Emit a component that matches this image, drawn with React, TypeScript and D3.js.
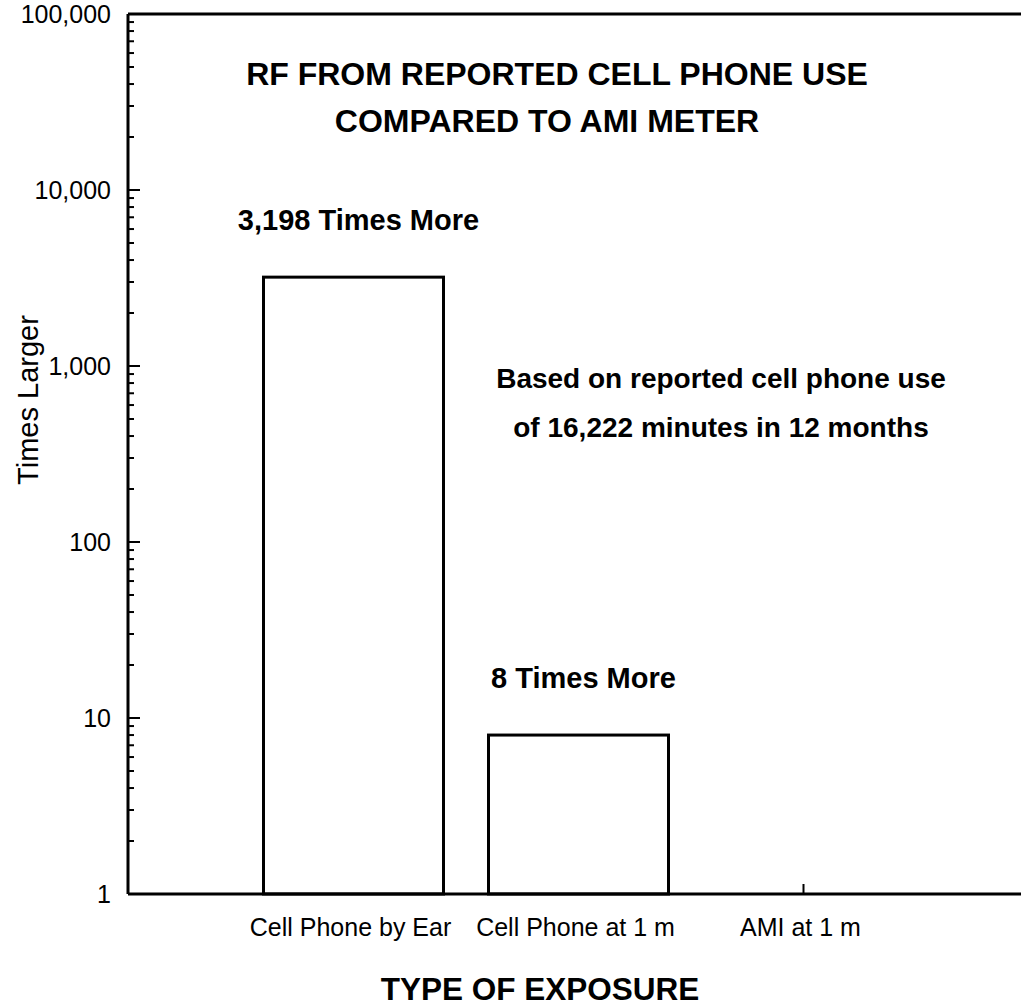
import React, { useEffect, useRef } from "react";
import * as d3 from "d3";

const categories = ["Cell Phone by Ear", "Cell Phone at 1 m", "AMI at 1 m"];
const values = [3198, 8, 1];
const barNotes = ["3,198 Times More", "8 Times More", ""];
const yTicks = [1, 10, 100, 1000, 10000, 100000];
const yTickLabels = ["1", "10", "100", "1,000", "10,000", "100,000"];
const titleLines = ["RF FROM REPORTED CELL PHONE USE", "COMPARED TO AMI METER"];
const noteLines = ["Based on reported cell phone use", "of 16,222 minutes in 12 months"];

const W = 1021;
const H = 1007;
const font = "'Liberation Sans', Arial, Helvetica, sans-serif";

const App = () => {
  const ref = useRef<SVGSVGElement | null>(null);

  useEffect(() => {
    const svg = d3.select(ref.current);
    svg.selectAll("*").remove();

    const left = 128;
    const top = 14;
    const bottom = 894;

    const y = d3.scaleLog().domain([1, 100000]).range([bottom, top]);
    const x = d3
      .scaleBand()
      .domain(categories)
      .range([241, 916])
      .paddingInner(0.2)
      .paddingOuter(0.1);

    // top line and baseline
    [top, bottom].forEach((yy) => {
      svg
        .append("line")
        .attr("x1", left)
        .attr("x2", W)
        .attr("y1", yy)
        .attr("y2", yy)
        .attr("stroke", "#000")
        .attr("stroke-width", 3);
    });

    // y axis, ticks point inward
    const minor: number[] = [];
    for (let p = 0; p < 5; p++) {
      for (let k = 2; k <= 9; k++) minor.push(k * Math.pow(10, p));
    }
    const g = svg.append("g");
    g.append("line")
      .attr("x1", left)
      .attr("x2", left)
      .attr("y1", top)
      .attr("y2", bottom)
      .attr("stroke", "#000")
      .attr("stroke-width", 3);
    g.selectAll(".minor")
      .data(minor)
      .enter()
      .append("line")
      .attr("x1", left)
      .attr("x2", left + 6)
      .attr("y1", (d) => y(d))
      .attr("y2", (d) => y(d))
      .attr("stroke", "#000")
      .attr("stroke-width", 2);
    g.selectAll(".major")
      .data(yTicks)
      .enter()
      .append("line")
      .attr("x1", left)
      .attr("x2", left + 12)
      .attr("y1", (d) => y(d))
      .attr("y2", (d) => y(d))
      .attr("stroke", "#000")
      .attr("stroke-width", 2);
    g.selectAll(".lab")
      .data(yTicks)
      .enter()
      .append("text")
      .attr("x", 111)
      .attr("y", (d) => y(d) + 9)
      .attr("text-anchor", "end")
      .style("font-family", font)
      .style("font-size", "25px")
      .text((d, i) => yTickLabels[i]);

    svg
      .append("text")
      .attr("transform", `translate(38, 400) rotate(-90)`)
      .attr("text-anchor", "middle")
      .style("font-family", font)
      .style("font-size", "29px")
      .text("Times Larger");

    // bars
    svg
      .selectAll(".bar")
      .data(values)
      .enter()
      .append("rect")
      .attr("x", (d, i) => x(categories[i]) as number)
      .attr("y", (d) => y(d))
      .attr("width", x.bandwidth())
      .attr("height", (d) => bottom - y(d))
      .attr("fill", "none")
      .attr("stroke", "#000")
      .attr("stroke-width", 3);

    // tick where the bar has no height
    svg
      .selectAll(".ctick")
      .data(values.map((v, i) => ({ v, i })).filter((d) => d.v <= 1))
      .enter()
      .append("line")
      .attr("x1", (d) => (x(categories[d.i]) as number) + x.bandwidth() / 2)
      .attr("x2", (d) => (x(categories[d.i]) as number) + x.bandwidth() / 2)
      .attr("y1", bottom)
      .attr("y2", bottom - 10)
      .attr("stroke", "#000")
      .attr("stroke-width", 2);

    svg
      .selectAll(".cat")
      .data(categories)
      .enter()
      .append("text")
      .attr("x", (d) => (x(d) as number) + x.bandwidth() / 2 - 3)
      .attr("y", 936)
      .attr("text-anchor", "middle")
      .style("font-family", font)
      .style("font-size", "25px")
      .text((d) => d);

    svg
      .selectAll(".note")
      .data(values)
      .enter()
      .append("text")
      .attr("x", (d, i) => (x(categories[i]) as number) + x.bandwidth() / 2 + 5)
      .attr("y", (d) => y(d) - 47)
      .attr("text-anchor", "middle")
      .style("font-family", font)
      .style("font-weight", "bold")
      .style("font-size", "29px")
      .text((d, i) => barNotes[i]);

    svg
      .selectAll(".title")
      .data(titleLines)
      .enter()
      .append("text")
      .attr("x", (d, i) => 557 - i * 10)
      .attr("y", (d, i) => 85 + i * 47)
      .attr("text-anchor", "middle")
      .style("font-family", font)
      .style("font-weight", "bold")
      .style("font-size", "32px")
      .text((d) => d);

    svg
      .selectAll(".based")
      .data(noteLines)
      .enter()
      .append("text")
      .attr("x", 721)
      .attr("y", (d, i) => 388 + i * 49)
      .attr("text-anchor", "middle")
      .style("font-family", font)
      .style("font-weight", "bold")
      .style("font-size", "28px")
      .text((d) => d);

    svg
      .append("text")
      .attr("x", 540)
      .attr("y", 1000)
      .attr("text-anchor", "middle")
      .style("font-family", font)
      .style("font-weight", "bold")
      .style("font-size", "31.5px")
      .text("TYPE OF EXPOSURE");
  }, []);

  return (
    <svg
      ref={ref}
      width={W}
      height={H}
      style={{ position: "absolute", left: 0, top: 0, background: "#fff" }}
    />
  );
};

export default App;
